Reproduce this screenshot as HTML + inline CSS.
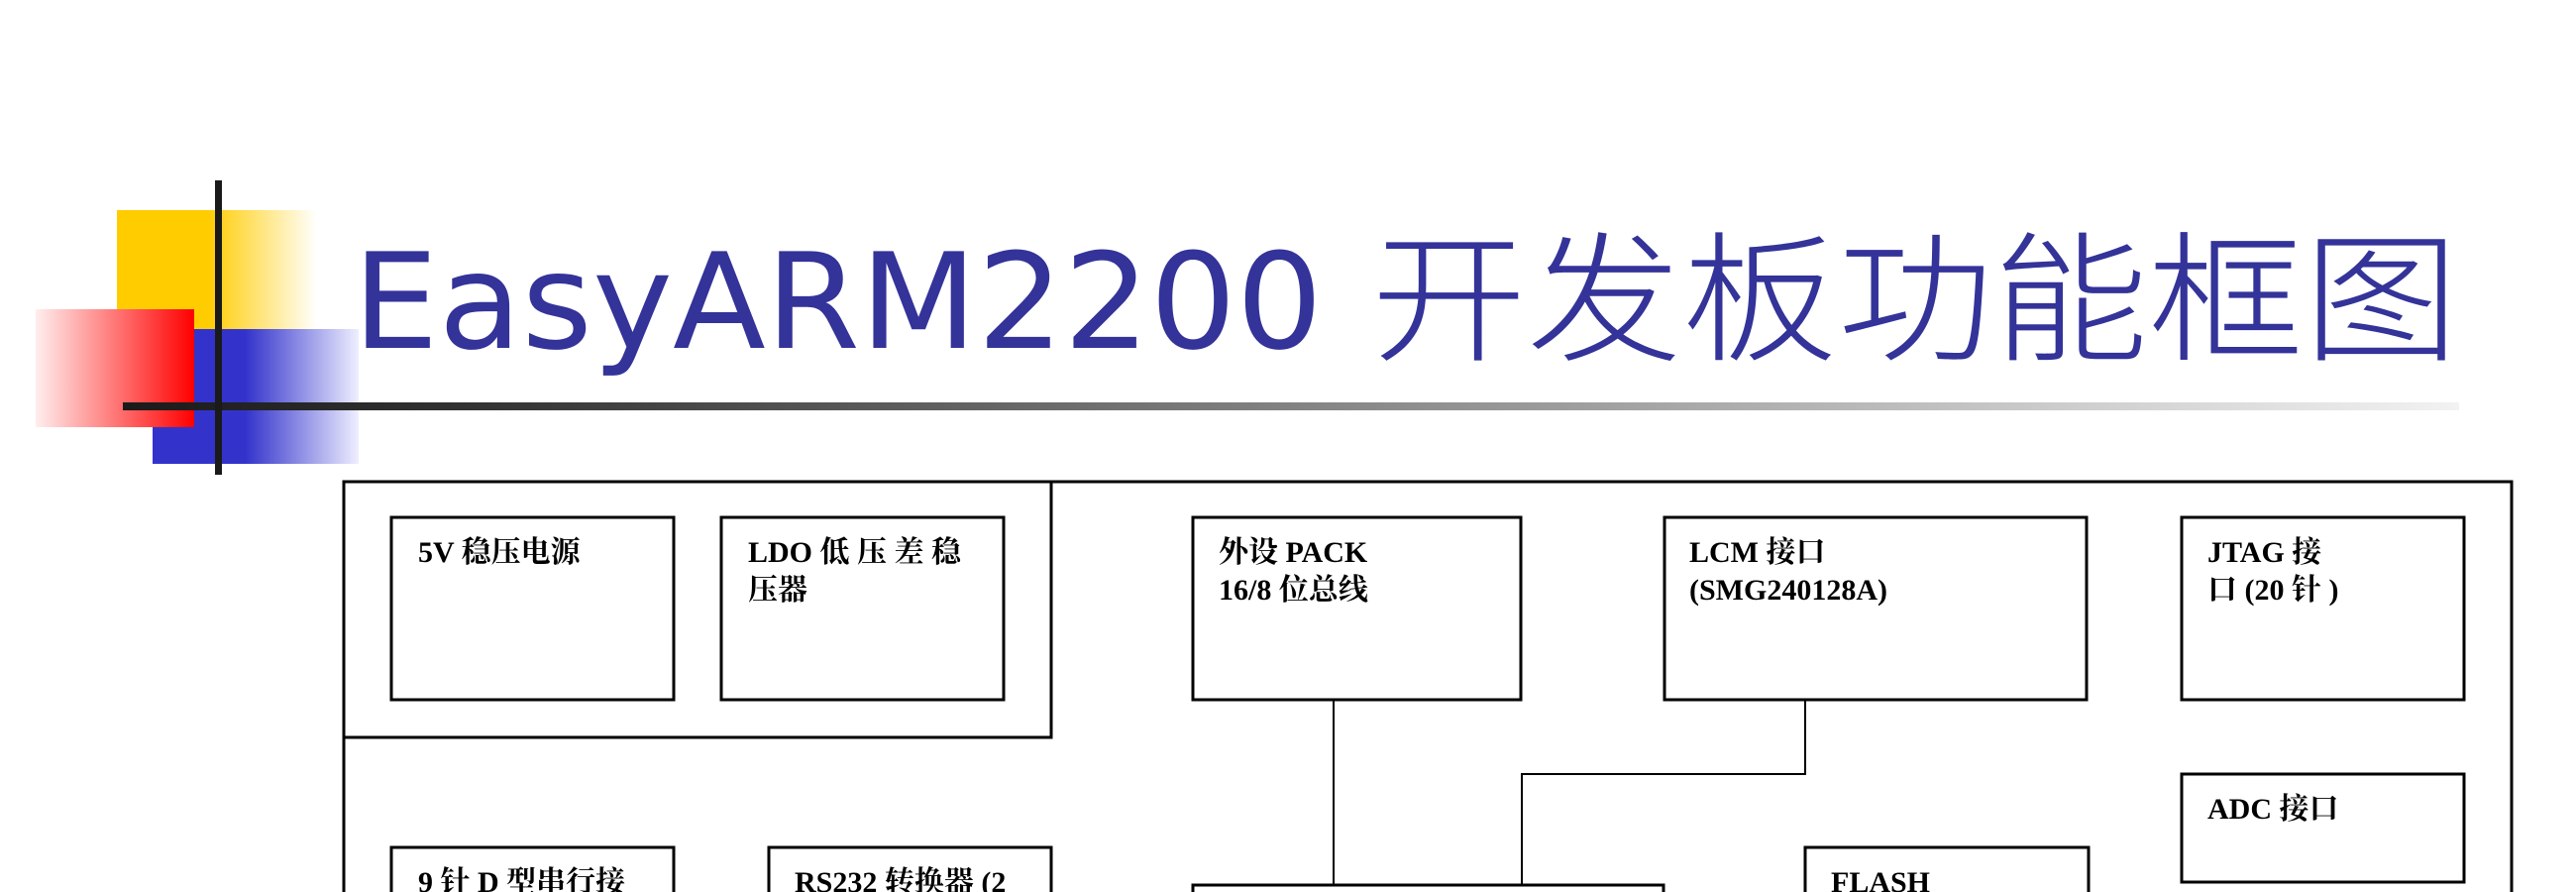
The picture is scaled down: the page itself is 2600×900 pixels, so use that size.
<!DOCTYPE html>
<html><head><meta charset="utf-8"><style>
html,body{margin:0;padding:0;background:#fff;}
svg{display:block;}
.t{font-family:"Liberation Serif","Noto Serif CJK SC","Noto Sans CJK SC",serif;font-weight:bold;font-size:30px;fill:#000;}
</style></head><body>
<svg width="2600" height="900" viewBox="0 0 2600 900" xmlns="http://www.w3.org/2000/svg">
<defs>
<linearGradient id="gy" x1="0" x2="1" y1="0" y2="0"><stop offset="0" stop-color="#ffcc00"/><stop offset="0.45" stop-color="#ffcc00"/><stop offset="1" stop-color="#ffffff"/></linearGradient>
<linearGradient id="gr" x1="0" x2="1" y1="0" y2="0"><stop offset="0" stop-color="#ffeeee"/><stop offset="1" stop-color="#ff0000"/></linearGradient>
<linearGradient id="gb" x1="0" x2="1" y1="0" y2="0"><stop offset="0" stop-color="#3333cc"/><stop offset="0.45" stop-color="#3333cc"/><stop offset="1" stop-color="#eeeeff"/></linearGradient>
<linearGradient id="gl" x1="0" x2="1" y1="0" y2="0"><stop offset="0" stop-color="#1a1a1a"/><stop offset="0.15" stop-color="#333333"/><stop offset="0.6" stop-color="#999999"/><stop offset="1" stop-color="#f2f2f2"/></linearGradient>
</defs>
<rect x="118" y="212" width="202" height="198" fill="url(#gy)"/>
<rect x="154" y="332" width="208" height="136" fill="url(#gb)"/>
<rect x="36" y="312" width="160" height="119" fill="url(#gr)"/>
<rect x="124" y="406" width="2358" height="8" fill="url(#gl)"/>
<rect x="217" y="182" width="7" height="297" fill="#1a1a1a"/>
<text x="356" y="351" fill="#333399" font-family="'DejaVu Sans',sans-serif" font-size="134" textLength="979" lengthAdjust="spacingAndGlyphs">EasyARM2200</text>
<text x="1384" y="353" fill="#333399" font-family="'Noto Sans CJK SC',sans-serif" font-weight="300" font-size="142" textLength="1098" lengthAdjust="spacingAndGlyphs">开发板功能框图</text>

<g fill="none" stroke="#000" stroke-width="3">
<polyline points="347,900 347,486 2535,486 2535,900"/>
<polyline points="347,744 1061,744 1061,486"/>
<rect x="395" y="522" width="285" height="184"/>
<rect x="728" y="522" width="285" height="184"/>
<rect x="1204" y="522" width="331" height="184"/>
<rect x="1680" y="522" width="426" height="184"/>
<rect x="2202" y="522" width="285" height="184"/>
<rect x="2202" y="781" width="285" height="109"/>
<rect x="395" y="855" width="285" height="60"/>
<rect x="776" y="855" width="285" height="60"/>
<rect x="1822" y="855" width="286" height="60"/>
<rect x="1204" y="893" width="475" height="30"/>
</g>
<g fill="none" stroke="#000" stroke-width="2">
<line x1="1346" y1="706" x2="1346" y2="893"/>
<polyline points="1822,706 1822,781 1536,781 1536,893"/>
</g>
<text class="t" x="422" y="567">5V 稳压电源</text>
<text class="t" x="755" y="567">LDO 低 压 差 稳</text>
<text class="t" x="755" y="605">压器</text>
<text class="t" x="1230" y="567">外设 PACK</text>
<text class="t" x="1230" y="605">16/8 位总线</text>
<text class="t" x="1705" y="567">LCM 接口</text>
<text class="t" x="1705" y="605">(SMG240128A)</text>
<text class="t" x="2228" y="567">JTAG 接</text>
<text class="t" x="2228" y="605">口 (20 针 )</text>
<text class="t" x="2228" y="826">ADC 接口</text>
<text class="t" x="422" y="900">9 针 D 型串行接</text>
<text class="t" x="802" y="900">RS232 转换器 (2</text>
<text class="t" x="1848" y="900">FLASH</text>
</svg>
</body></html>
